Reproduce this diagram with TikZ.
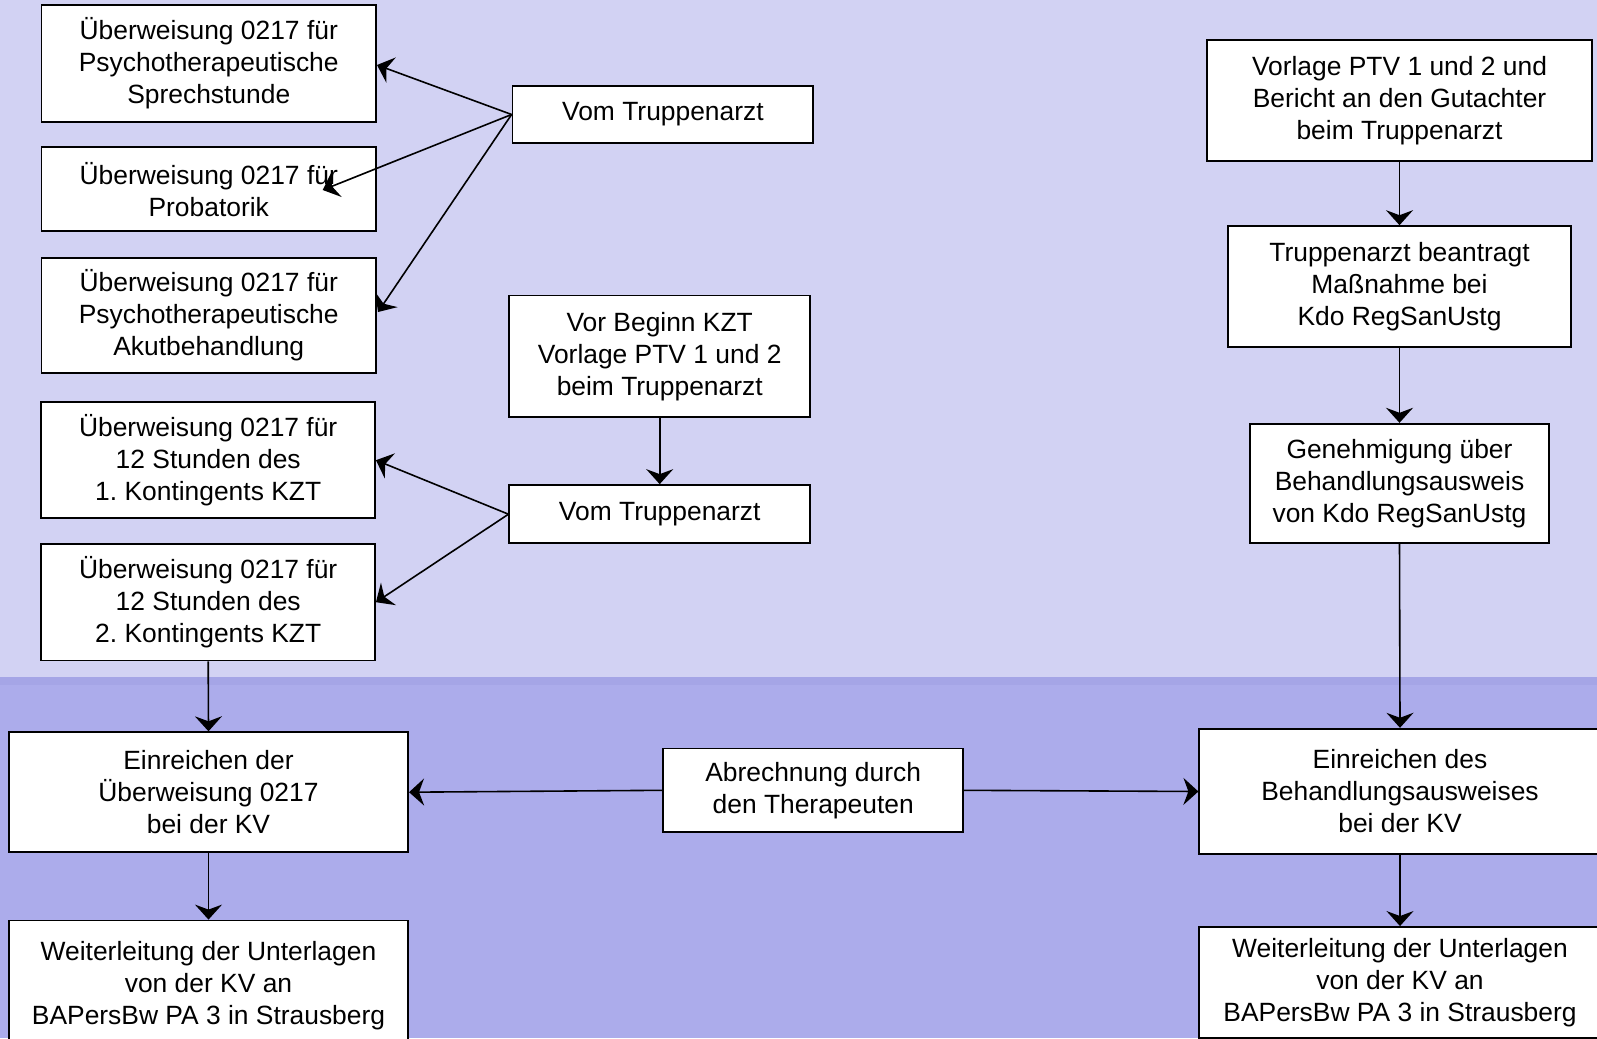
\documentclass[tikz,border=0pt]{standalone}
\usepackage{fontspec}
\setmainfont{Liberation Sans}
\usetikzlibrary{arrows.meta,calc}
\definecolor{laneTop}{RGB}{210,210,243}
\definecolor{laneBottom}{RGB}{172,172,235}
\definecolor{laneEdge}{RGB}{165,165,230}
\frenchspacing
\tikzset{
  stepbox/.style={draw=black, fill=white, line width=1.8pt, align=center,
    inner sep=0pt, font=\fontsize{26.4}{32}\selectfont},
  flow/.style={line width=1.6pt, -{Stealth[length=15pt,width=27pt,inset=5pt]}},
}
\begin{document}
\begin{tikzpicture}[x=1pt,y=-1pt]
  % swimlane backgrounds
  \useasboundingbox (0,0) rectangle (1597,1038);
  \fill[laneTop] (0,0) rectangle (1597,677);
  \fill[laneBottom] (0,677) rectangle (1597,1038);
  \fill[laneEdge] (0,677) rectangle (1597,685);

  % left column: referrals
  \node[stepbox, minimum width=334.5pt, minimum height=117pt] (a1) at (208.75,63.5)
    {Überweisung 0217 für\\Psychotherapeutische\\Sprechstunde};
  \node[stepbox, minimum width=334.5pt, minimum height=84pt] (a2) at (208.75,189.2)
    {Überweisung 0217 für\\Probatorik};
  \node[stepbox, minimum width=334.5pt, minimum height=115.6pt] (a3) at (208.75,315.5)
    {Überweisung 0217 für\\Psychotherapeutische\\Akutbehandlung};
  \node[stepbox, minimum width=333.7pt, minimum height=116pt] (a4) at (208.2,460.2)
    {Überweisung 0217 für\\12 Stunden des\\1. Kontingents KZT};
  \node[stepbox, minimum width=333.7pt, minimum height=116.7pt] (a5) at (208.2,602.2)
    {Überweisung 0217 für\\12 Stunden des\\2. Kontingents KZT};

  % middle column
  \node[stepbox, minimum width=300.8pt, minimum height=57.6pt] (t1) at (662.9,114.5)
    {Vom Truppenarzt};
  \node[stepbox, minimum width=300.7pt, minimum height=121.3pt] (v) at (659.7,356.2)
    {Vor Beginn KZT\\Vorlage PTV 1 und 2\\beim Truppenarzt};
  \node[stepbox, minimum width=300.7pt, minimum height=58.3pt] (t2) at (659.7,514.2)
    {Vom Truppenarzt};

  % right column
  \node[stepbox, minimum width=385pt, minimum height=121.2pt] (r1) at (1399.5,100.3)
    {Vorlage PTV 1 und 2 und\\Bericht an den Gutachter\\beim Truppenarzt};
  \node[stepbox, minimum width=342.5pt, minimum height=121.2pt] (r2) at (1399.5,286.7)
    {Truppenarzt beantragt\\Maßnahme bei\\Kdo RegSanUstg};
  \node[stepbox, minimum width=299.3pt, minimum height=119.2pt] (r3) at (1399.5,483.3)
    {Genehmigung über\\Behandlungsausweis\\von Kdo RegSanUstg};

  % billing lane
  \node[stepbox, minimum width=399.3pt, minimum height=120pt] (e1) at (208.5,792.2)
    {Einreichen der\\Überweisung 0217\\bei der KV};
  \node[stepbox, minimum width=399.3pt, minimum height=130pt] (w1) at (208.5,985.5)
    {Weiterleitung der Unterlagen\\von der KV an\\BAPersBw PA 3 in Strausberg};
  \node[stepbox, minimum width=299.7pt, minimum height=83.7pt] (ab) at (813.2,790.3)
    {Abrechnung durch\\den Therapeuten};
  \node[stepbox, minimum width=401.4pt, minimum height=125.6pt] (e2) at (1400,791.5)
    {Einreichen des\\Behandlungsausweises\\bei der KV};
  \node[stepbox, minimum width=401.4pt, minimum height=110.7pt] (w2) at (1400,982.3)
    {Weiterleitung der Unterlagen\\von der KV an\\BAPersBw PA 3 in Strausberg};

  % arrow end points inside / beside the referral boxes
  \coordinate (tipA1) at (377,65);
  \coordinate (tipA2) at (322.7,190);
  \coordinate (tipA3) at (378,312);

  % connectors
  \draw[flow] (t1.west) -- (tipA1);
  \draw[flow] (t1.west) -- (tipA2);
  \draw[flow] (t1.west) -- (tipA3);
  \draw[flow] (v.south) -- (t2.north);
  \draw[flow] (t2.west) -- (a4.east);
  \draw[flow] (t2.west) -- (a5.east);
  \draw[flow] (a5.south) -- (e1.north);
  \draw[flow] (e1.south) -- (w1.north);
  \draw[flow] (ab.west) -- (e1.east);
  \draw[flow] (ab.east) -- (e2.west);
  \draw[flow] (r1.south) -- (r2.north);
  \draw[flow] (r2.south) -- (r3.north);
  \draw[flow] (r3.south) -- (e2.north);
  \draw[flow] (e2.south) -- (w2.north);
\end{tikzpicture}
\end{document}
